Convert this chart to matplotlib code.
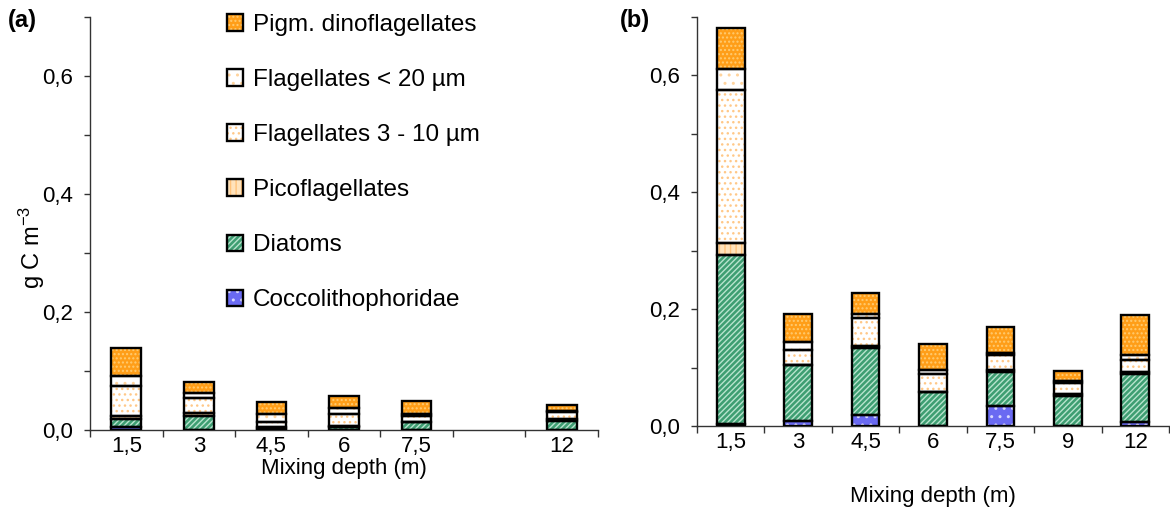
import numpy as np
import matplotlib
matplotlib.use('Agg')
import matplotlib.pyplot as plt
from matplotlib.patches import Patch
from matplotlib.ticker import FixedLocator, FuncFormatter

plt.rcParams['font.family'] = ['Liberation Sans', 'DejaVu Sans']
plt.rcParams['mathtext.fontset'] = 'custom'
plt.rcParams['mathtext.rm'] = 'Liberation Sans'
plt.rcParams['mathtext.it'] = 'Liberation Sans:italic'
plt.rcParams['hatch.linewidth'] = 1.0

nan = np.nan

# ---------------- data ----------------
depths_a = ["1,5", "3", "4,5", "6", "7,5", "", "12"]
depths_b = ["1,5", "3", "4,5", "6", "7,5", "9", "12"]

series = ["Coccolithophoridae", "Diatoms", "Picoflagellates",
          "Flagellates 3 - 10 µm", "Flagellates < 20 µm", "Pigm. dinoflagellates"]

# panel (a)  (position "9" has no data)
cocco_a = [0.005, 0.000, 0.000, 0.000, 0.000, nan, 0.000]
diatom_a = [0.013, 0.023, 0.002, 0.005, 0.013, nan, 0.016]
pico_a = [0.005, 0.005, 0.003, 0.001, 0.001, nan, 0.002]
flag310_a = [0.051, 0.026, 0.009, 0.021, 0.010, nan, 0.013]
flag20_a = [0.017, 0.008, 0.013, 0.010, 0.003, nan, 0.002]
dino_a = [0.048, 0.020, 0.021, 0.021, 0.023, nan, 0.009]

# panel (b)
cocco_b = [0.004, 0.009, 0.018, 0.000, 0.034, 0.000, 0.006]
diatom_b = [0.289, 0.096, 0.115, 0.058, 0.059, 0.052, 0.083]
pico_b = [0.019, 0.000, 0.003, 0.000, 0.003, 0.003, 0.003]
flag310_b = [0.262, 0.025, 0.049, 0.031, 0.025, 0.018, 0.021]
flag20_b = [0.037, 0.014, 0.007, 0.007, 0.003, 0.004, 0.008]
dino_b = [0.069, 0.047, 0.035, 0.044, 0.045, 0.017, 0.068]

data_a = [cocco_a, diatom_a, pico_a, flag310_a, flag20_a, dino_a]
data_b = [cocco_b, diatom_b, pico_b, flag310_b, flag20_b, dino_b]

# ---------------- styles ----------------
styles = {
    "Coccolithophoridae": dict(fc='#6A6AF2', hc='#D8D8FF', hatch='..'),
    "Diatoms": dict(fc='#3E9E72', hc='#B8E4CE', hatch='//////'),
    "Picoflagellates": dict(fc='#FFE3BC', hc='#FFC27A', hatch='|||'),
    "Flagellates 3 - 10 µm": dict(fc='white', hc='#FFC888', hatch='...'),
    "Flagellates < 20 µm": dict(fc='white', hc='#FFD49E', hatch='..'),
    "Pigm. dinoflagellates": dict(fc='#FF9E18', hc='#FFCB70', hatch='....'),
}

W, H = 1170, 515
fig = plt.figure(figsize=(W / 100, H / 100), dpi=100)

ax_a = fig.add_axes([90 / W, 1 - 430 / H, 508 / W, 413 / H])
ax_b = fig.add_axes([697 / W, 1 - 426 / H, 472 / W, 409.5 / H])

BAR_W = 0.41
EDGE_LW = 1.7
FS = 16


def draw_panel(ax, data, labels, xlabelpad):
    n = len(labels)
    x = np.arange(n)
    arr = np.array(data, dtype=float)
    valid = ~np.isnan(arr[0])
    bottom = np.zeros(n)
    for name, vals in zip(series, arr):
        st = styles[name]
        v = np.nan_to_num(vals)
        ax.bar(x[valid], v[valid], BAR_W, bottom=bottom[valid], color=st['fc'],
               edgecolor=st['hc'], hatch=st['hatch'], linewidth=0, zorder=2)
        ax.bar(x[valid], v[valid], BAR_W, bottom=bottom[valid], fill=False,
               edgecolor='black', linewidth=EDGE_LW, zorder=3)
        bottom = bottom + v
    ax.set_xlim(-0.5, n - 0.5)
    ax.set_ylim(0, 0.7)
    for s in ['top', 'right']:
        ax.spines[s].set_visible(False)
    for s in ['left', 'bottom']:
        ax.spines[s].set_color('#333333')
        ax.spines[s].set_linewidth(1.0)
    # x: tick marks between categories, labels at centres
    ax.xaxis.set_major_locator(FixedLocator(np.arange(n + 1) - 0.5))
    ax.xaxis.set_major_formatter(FuncFormatter(lambda v, p: ''))
    ax.xaxis.set_minor_locator(FixedLocator(x))
    ax.set_xticklabels(labels, minor=True)
    ax.tick_params(axis='x', which='major', direction='out', length=5, width=1.0, color='#333333')
    ax.tick_params(axis='x', which='minor', length=0, pad=4, labelsize=FS)
    # y
    ax.yaxis.set_major_locator(FixedLocator([0, 0.2, 0.4, 0.6]))
    ax.yaxis.set_minor_locator(FixedLocator([0.1, 0.3, 0.5, 0.7]))
    ax.yaxis.set_major_formatter(FuncFormatter(lambda v, p: f"{v:.1f}".replace('.', ',')))
    ax.tick_params(axis='y', which='both', direction='out', length=4, width=1.0,
                   color='#333333', labelsize=FS, pad=8)
    ax.set_xlabel("Mixing depth (m)", fontsize=FS, labelpad=xlabelpad)


draw_panel(ax_a, data_a, depths_a, 1)
draw_panel(ax_b, data_b, depths_b, 24)

fig.text(32 / W, 1 - 247 / H, "g C m$^{-3}$", fontsize=17, rotation=90,
         ha='center', va='center')

fig.text(8 / W, 1 - 21 / H, "(a)", fontsize=17, fontweight='bold', va='center', ha='left')
fig.text(620 / W, 1 - 21 / H, "(b)", fontsize=17, fontweight='bold', va='center', ha='left')

# legend
handles = []
for name in series[::-1]:
    st = styles[name]
    h1 = Patch(facecolor=st['fc'], edgecolor=st['hc'], hatch=st['hatch'], linewidth=0)
    h2 = Patch(fill=False, edgecolor='black', linewidth=EDGE_LW)
    handles.append((h1, h2))
fig.legend(handles, series[::-1], loc='upper left', bbox_to_anchor=(227 / W, 1 - 14 / H),
           frameon=False, fontsize=17.5, handlelength=0.66, handleheight=0.66,
           handletextpad=0.4, labelspacing=1.36, borderpad=0, borderaxespad=0)

fig.savefig('out.png', dpi=100)
